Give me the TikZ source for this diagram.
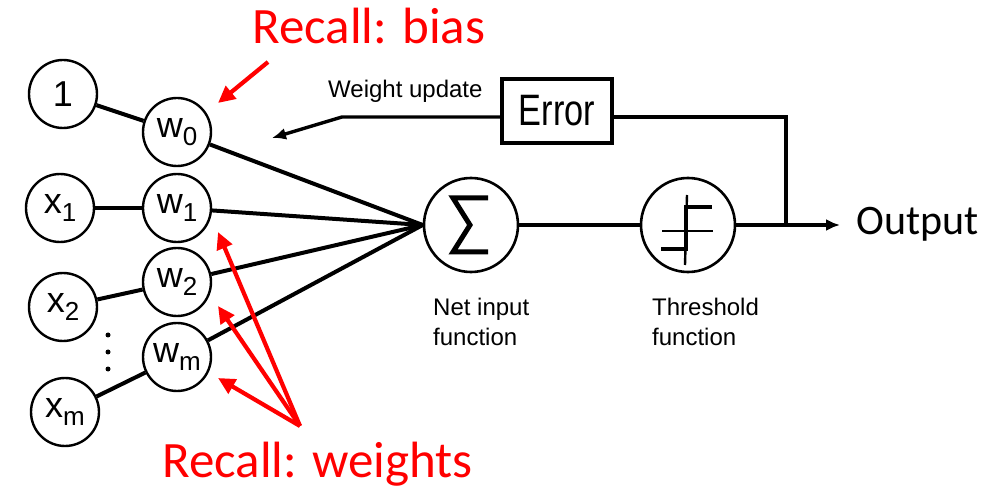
\documentclass[tikz,border=0pt]{standalone}
\usepackage{fontspec}
\setmainfont{Liberation Sans}
\newfontfamily\calfont{Carlito}
\usetikzlibrary{arrows.meta,calc}

% subscript in the circle labels
\newcommand\lowsub[1]{\raisebox{-8pt}{\fontsize{26}{26}\selectfont #1}}

\tikzset{
  unit/.style={circle, draw, line width=2.4pt, minimum size=68pt, inner sep=0pt,
               font=\fontsize{36}{36}\selectfont},
  bigunit/.style={circle, draw, line width=2.6pt, minimum size=94pt, inner sep=0pt},
  wire/.style={line width=4pt},
  thinwire/.style={line width=3.4pt},
  tip/.style={-{Latex[length=14pt,width=12pt]}},
  redarrow/.style={draw=red, line width=4.2pt, -{Triangle[length=17pt,width=16pt]}},
  redlabel/.style={text=red, anchor=base west, inner sep=0pt,
                   font=\calfont\fontsize{51}{51}\selectfont},
  caption/.style={anchor=base west, inner sep=0pt, align=left,
                  font=\fontsize{24}{30}\selectfont},
}

\begin{document}
\begin{tikzpicture}[x=1pt, y=-1pt]
\useasboundingbox (0,0) rectangle (1005,489);

% inputs
\node[unit] (one) at (63,94)  {1};
\node[unit] (x1)  at (60,208) {x\lowsub{1}};
\node[unit] (x2)  at (63,307) {x\lowsub{2}};
\node[unit] (xm)  at (65,412) {x\lowsub{m}};

% weights
\node[unit] (w0) at (177,132) {w\lowsub{0}};
\node[unit] (w1) at (177,208) {w\lowsub{1}};
\node[unit] (w2) at (177,282) {w\lowsub{2}};
\node[unit] (wm) at (177,357) {w\lowsub{m}};

% vertical ellipsis between x2 and xm
\foreach \yy in {335,352,369} \fill (108,\yy) circle (2.5pt);

% net input and threshold units
\node[bigunit] (sum) at (471,225) {};
\node[bigunit] (thr) at (688,225) {};

% sigma sign
\draw[line width=5pt, miter limit=10]
  (488,198) -- (453,198) -- (470,225) -- (453,252) -- (488,252);

% step function sign
\draw[line width=2.4pt] (662,231) -- (713,231);
\draw[line width=2.4pt] (687,195) -- (685,265);
\draw[line width=3.2pt] (661,249) -- (686,249) -- (686,207) -- (712,207);

% input to weight connections
\draw[wire] (one) -- (w0);
\draw[wire] (x1) -- (w1);
\draw[wire] (x2) -- (w2);
\draw[wire] (xm) -- (wm);

% weights to net input
\foreach \w in {w0,w1,w2,wm} \draw[wire] (\w) -- (sum.west);

% net input to threshold to output
\coordinate (jn) at (786,225);
\coordinate (outtip) at (840,225);
\draw[wire] (sum) -- (thr);
\draw[wire] (thr) -- (jn);
\draw[thinwire, tip] (jn) -- (outtip);
\node[anchor=base west, inner sep=0pt, font=\calfont\fontsize{42}{42}\selectfont]
  (out) at (856,235) {Output};

% error feedback
\node[draw, line width=3.2pt, minimum width=110pt, minimum height=64pt, inner sep=0pt]
  (err) at (557,111) {\scalebox{0.78}[1]{\fontsize{44}{44}\selectfont Error}};
\coordinate (bend) at (342,117);
\coordinate (wutip) at (272,138);
\draw[thinwire] (jn) |- ($(err.east)+(0,6)$);
\draw[thinwire, tip] ($(err.west)+(0,6)$) -- (bend) -- (wutip);
\node[caption] (wu) at (328,98) {Weight update};

% captions under the units
\node[caption] (netcap) at (433,345) {Net input\\function};
\node[caption] (thrcap) at (652,345) {Threshold\\function};

% red annotations
\node[redlabel] (bias) at (252,44) {Recall: bias};
\node[redlabel] (wts)  at (162,477) {Recall: weights};
\coordinate (biasfrom) at (268,62);
\coordinate (wfrom) at (300,426);
\coordinate (p0) at (218,103);
\coordinate (p1) at (218,232);
\coordinate (p2) at (218,306);
\coordinate (pm) at (218,378);
\draw[redarrow] (biasfrom) -- (p0);
\draw[redarrow] (wfrom) -- (p1);
\draw[redarrow] (wfrom) -- (p2);
\draw[redarrow] (wfrom) -- (pm);
\end{tikzpicture}
\end{document}
